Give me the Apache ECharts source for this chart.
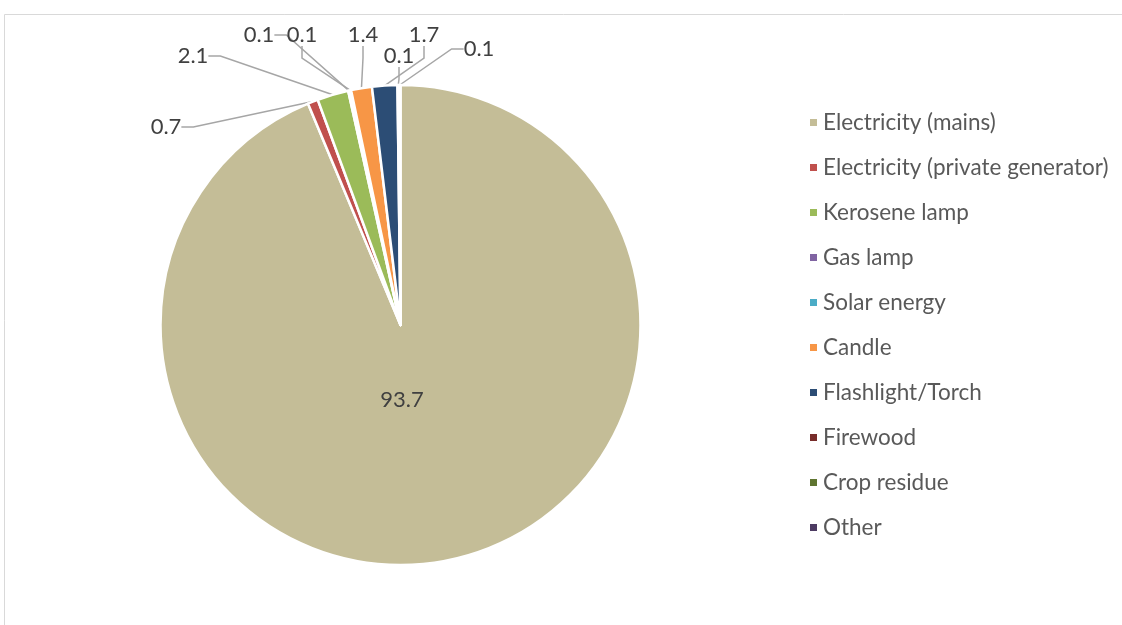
<!DOCTYPE html>
<html><head><meta charset="utf-8">
<script src="https://cdn.jsdelivr.net/npm/echarts@6/dist/echarts.min.js"></script>
<style>html,body{margin:0;padding:0;background:#fff}#c{width:1122px;height:625px}</style>
</head><body><div id="c"></div>
<script>
const categories = ['Electricity (mains)', 'Electricity (private generator)', 'Kerosene lamp', 'Gas lamp', 'Solar energy', 'Candle', 'Flashlight/Torch', 'Firewood', 'Crop residue', 'Other'];
const values = [93.7, 0.7, 2.1, 0.1, 0.1, 1.4, 1.7, 0.1, '-', 0.1];
const colors = ['#C4BD97', '#C0504D', '#9BBB59', '#8064A2', '#4BACC6', '#F79646', '#2C4D75', '#772C2A', '#5F7530', '#4D3B62'];
// where each data label's text sits (layout only)
const labelSpots = [[402, 400], [166, 127], [193, 56], [259, 35], [302, 35], [363, 35], [424, 35], [399, 56], null, [479, 49]];

const FONT = 'Lato';
const chart = echarts.init(document.getElementById('c'), null, {renderer: 'canvas'});
chart.setOption({
  animation: false,
  color: colors,
  graphic: [{
    type: 'rect', silent: true, z: -1,
    shape: {x: 4.5, y: 14.5, width: 1300, height: 800},
    style: {fill: 'none', stroke: '#d9d9d9', lineWidth: 1}
  }],
  legend: {
    orient: 'vertical', left: 808, top: 111, padding: 0,
    itemWidth: 9, itemHeight: 9, itemGap: 22, icon: 'rect',
    selectedMode: false,
    textStyle: {fontFamily: FONT, fontSize: 22.5, lineHeight: 22, color: '#595959'},
    data: categories
  },
  series: [{
    type: 'pie',
    center: [400.5, 325], radius: 240,
    startAngle: 90, clockwise: true,
    avoidLabelOverlap: false,
    silent: true,
    itemStyle: {borderColor: '#fff', borderWidth: 2.5},
    label: {
      show: true, fontFamily: FONT, fontSize: 22, color: '#404040',
      formatter: p => (p.value === '-' || p.value == null || isNaN(p.value)) ? '' : Number(p.value).toFixed(1)
    },
    labelLine: {show: true, length: 10, length2: 12, lineStyle: {color: '#a6a6a6', width: 1.5}},
    labelLayout: p => {
      const s = labelSpots[p.dataIndex];
      if (!s) return {};
      return {x: s[0], y: s[1], align: 'center', verticalAlign: 'middle'};
    },
    emphasis: {disabled: true},
    data: categories.map((c, i) => i === 0
      ? {name: c, value: values[i], labelLine: {show: false}}
      : {name: c, value: values[i]})
  }]
});
</script></body></html>
